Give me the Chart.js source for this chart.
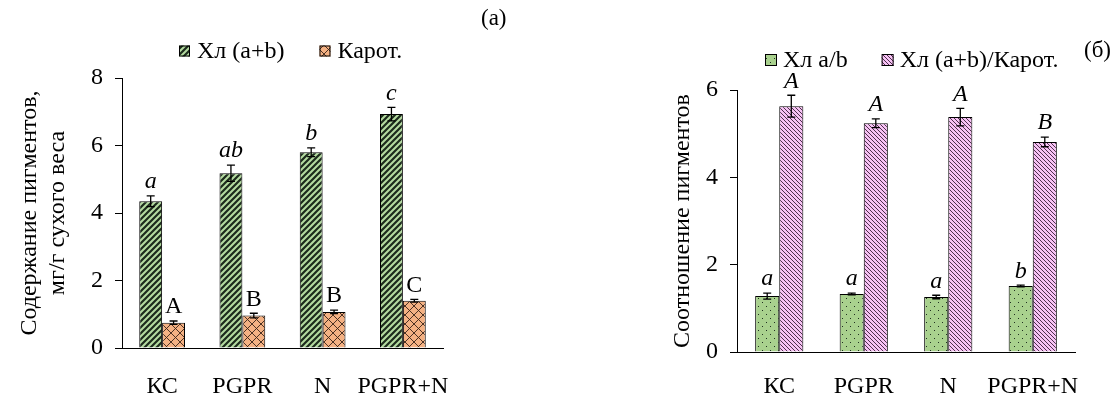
<!DOCTYPE html>
<html lang="ru">
<head>
  <meta charset="UTF-8">
  <title>Пигменты</title>
  <script src="https://cdn.jsdelivr.net/npm/chart.js"></script>
  <style>
    body { margin: 0; background: #fff; width: 1113px; height: 396px; position: relative; overflow: hidden; }
    canvas { position: absolute; top: 0; }
    .tag { position: absolute; font-family: "Liberation Serif", serif; font-size: 23px; color: #000; }
  </style>
  <script>
    // данные
    const categories = ['КС', 'PGPR', 'N', 'PGPR+N'];

    const chlTotal = [4.35, 5.18, 5.80, 6.93];
    const chlTotalErr = [0.16, 0.24, 0.13, 0.20];
    const chlTotalLetters = ['a', 'ab', 'b', 'c'];

    const carot = [0.75, 0.96, 1.07, 1.40];
    const carotErr = [0.05, 0.07, 0.05, 0.04];
    const carotLetters = ['A', 'B', 'B', 'C'];

    const ratioAB = [1.28, 1.33, 1.26, 1.51];
    const ratioABErr = [0.07, 0.02, 0.04, 0.02];
    const ratioABLetters = ['a', 'a', 'a', 'b'];

    const ratioChlCar = [5.63, 5.24, 5.38, 4.81];
    const ratioChlCarErr = [0.25, 0.10, 0.20, 0.11];
    const ratioChlCarLetters = ['A', 'A', 'A', 'B'];

    const leftTicks = [0, 2, 4, 6, 8];
    const rightTicks = [0, 2, 4, 6];

    const FONT = '"Liberation Serif", "Times New Roman", serif';
    const FS = 24;

    // узоры заливки
    function makePattern(kind) {
      const c = document.createElement('canvas');
      const g = c.getContext('2d');
      if (kind === 'stripes') {
        c.width = 6; c.height = 6;
        g.fillStyle = '#b4dba0'; g.fillRect(0, 0, 6, 6);
        g.strokeStyle = '#1c2b1c'; g.lineWidth = 2.2;
        g.beginPath();
        g.moveTo(-1, 7); g.lineTo(7, -1);
        g.moveTo(-4, 4); g.lineTo(4, -4);
        g.moveTo(2, 10); g.lineTo(10, 2);
        g.stroke();
      } else if (kind === 'cross') {
        c.width = 9; c.height = 9;
        g.fillStyle = '#f4b183'; g.fillRect(0, 0, 9, 9);
        g.strokeStyle = '#3a2418'; g.lineWidth = 0.9;
        g.beginPath();
        g.moveTo(0, 0); g.lineTo(9, 9);
        g.moveTo(9, 0); g.lineTo(0, 9);
        g.stroke();
      } else if (kind === 'dots') {
        c.width = 8; c.height = 8;
        g.fillStyle = '#a9d18e'; g.fillRect(0, 0, 8, 8);
        g.fillStyle = '#203020';
        g.fillRect(2, 2, 1, 1);
        g.fillRect(6, 6, 1, 1);
      } else if (kind === 'pink') {
        c.width = 4; c.height = 4;
        g.fillStyle = '#f7c2f4'; g.fillRect(0, 0, 4, 4);
        g.strokeStyle = '#3a1f3a'; g.lineWidth = 0.9;
        g.beginPath();
        g.moveTo(0, 0); g.lineTo(4, 4);
        g.moveTo(-2, 2); g.lineTo(2, 6);
        g.moveTo(2, -2); g.lineTo(6, 2);
        g.stroke();
      }
      return g.createPattern(c, 'repeat');
    }

    // планки погрешностей и буквы над столбцами
    const errorBarsPlugin = {
      id: 'errorBars',
      afterDatasetsDraw(chart) {
        const ctx = chart.ctx;
        const y = chart.scales.y;
        chart.data.datasets.forEach((ds, i) => {
          const meta = chart.getDatasetMeta(i);
          meta.data.forEach((bar, j) => {
            const v = ds.data[j], e = ds.errors[j];
            const yt = y.getPixelForValue(v + e);
            const yb = y.getPixelForValue(v - e);
            ctx.save();
            ctx.strokeStyle = '#000';
            ctx.lineWidth = 1.3;
            ctx.beginPath();
            ctx.moveTo(bar.x, yt); ctx.lineTo(bar.x, yb);
            ctx.moveTo(bar.x - 4, yt); ctx.lineTo(bar.x + 4, yt);
            ctx.moveTo(bar.x - 4, yb); ctx.lineTo(bar.x + 4, yb);
            ctx.stroke();
            ctx.fillStyle = '#000';
            ctx.font = (ds.italic ? 'italic ' : '') + FS + 'px ' + FONT;
            ctx.textAlign = 'center';
            ctx.textBaseline = 'bottom';
            ctx.fillText(ds.letters[j], bar.x, yt - 2);
            ctx.restore();
          });
        });
      }
    };

    // легенда над областью графика
    const legendPlugin = {
      id: 'topLegend',
      afterDraw(chart, args, opts) {
        const ctx = chart.ctx;
        const area = chart.chartArea;
        ctx.save();
        ctx.font = FS + 'px ' + FONT;
        const box = opts.box, gap = opts.gap, spacing = opts.spacing;
        const items = chart.data.datasets.map(ds => ({ ds, w: box + gap + ctx.measureText(ds.label).width }));
        const total = items.reduce((s, it) => s + it.w, 0) + spacing * (items.length - 1);
        let x = Math.round((area.left + area.right) / 2 - total / 2 + opts.shift);
        const yc = Math.round(area.top - opts.offset);
        items.forEach(it => {
          ctx.fillStyle = it.ds.backgroundColor;
          ctx.fillRect(x, yc - box / 2, box, box);
          ctx.strokeStyle = '#000';
          ctx.lineWidth = 1;
          ctx.strokeRect(x + 0.5, yc - box / 2 + 0.5, box - 1, box - 1);
          ctx.fillStyle = '#000';
          ctx.textBaseline = 'middle';
          ctx.textAlign = 'left';
          ctx.fillText(it.ds.label, x + box + gap, yc + 1);
          x += it.w + spacing;
        });
        ctx.restore();
      }
    };

    function makeChart(id, datasets, opt) {
      const ctx = document.getElementById(id).getContext('2d');
      return new Chart(ctx, {
        type: 'bar',
        data: { labels: categories, datasets: datasets },
        options: {
          responsive: false,
          animation: false,
          devicePixelRatio: 1,
          layout: { padding: { top: opt.top, right: opt.right, bottom: 0, left: opt.left } },
          datasets: { bar: { categoryPercentage: 0.57, barPercentage: 1.0, borderWidth: 1, borderColor: '#000' } },
          scales: {
            x: {
              grid: { display: false },
              border: { display: true, color: '#000', width: 1 },
              ticks: { color: '#000', font: { family: FONT, size: FS }, padding: opt.xPad, maxRotation: 0, autoSkip: false },
              afterFit(s) { s.height = opt.xHeight; }
            },
            y: {
              min: 0,
              max: opt.max,
              afterBuildTicks(s) { s.ticks = opt.ticks.map(v => ({ value: v })); },
              grid: { drawOnChartArea: false, drawTicks: true, tickLength: 7, color: '#000' },
              border: { display: true, color: '#000', width: 1 },
              ticks: { color: '#000', font: { family: FONT, size: FS }, padding: 12 },
              title: { display: true, text: opt.title, color: '#000', font: { family: FONT, size: FS, lineHeight: 1.15 }, padding: { top: opt.titlePad, bottom: 0 } },
              afterFit(s) { s.width = opt.yWidth; }
            }
          },
          plugins: {
            legend: { display: false },
            tooltip: { enabled: false },
            topLegend: opt.legend
          }
        },
        plugins: [errorBarsPlugin, legendPlugin]
      });
    }

    window.onload = function () {
      makeChart('left', [
        { label: 'Хл (a+b)', data: chlTotal, errors: chlTotalErr, letters: chlTotalLetters, italic: true, backgroundColor: makePattern('stripes') },
        { label: 'Карот.', data: carot, errors: carotErr, letters: carotLetters, italic: false, backgroundColor: makePattern('cross') }
      ], { top: 78, right: 113, left: 0, xHeight: 48, xPad: 16, yWidth: 122, max: 8, ticks: leftTicks,
           title: ['Содержание пигментов,', 'мг/г сухого веса'], titlePad: 16,
           legend: { offset: 27, box: 11, gap: 7, spacing: 35, shift: 8 } });

      makeChart('right', [
        { label: 'Хл a/b', data: ratioAB, errors: ratioABErr, letters: ratioABLetters, italic: true, backgroundColor: makePattern('dots') },
        { label: 'Хл (a+b)/Карот.', data: ratioChlCar, errors: ratioChlCarErr, letters: ratioChlCarLetters, italic: true, backgroundColor: makePattern('pink') }
      ], { top: 90, right: 38, left: 113, xHeight: 44, xPad: 12, yWidth: 68, max: 6, ticks: rightTicks,
           title: 'Соотношение пигментов', titlePad: 0,
           legend: { offset: 30, box: 12, gap: 6, spacing: 34, shift: 6 } });
    };
  </script>
</head>
<body>
  <canvas id="left" width="556" height="396" style="left:0"></canvas>
  <canvas id="right" width="557" height="396" style="left:556px"></canvas>
  <div class="tag" style="left:481px; top:5px;">(а)</div>
  <div class="tag" style="left:1084px; top:37px;">(б)</div>
</body>
</html>
